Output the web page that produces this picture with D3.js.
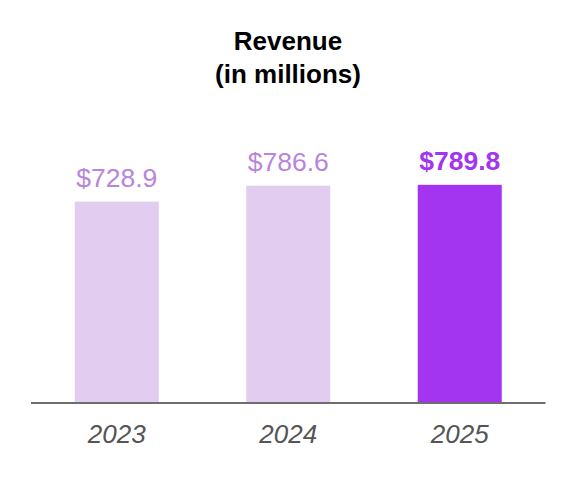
<!DOCTYPE html>
<html>
<head>
<meta charset="utf-8">
<script src="https://cdn.jsdelivr.net/npm/d3@7"></script>
<style>
  body { margin: 0; background: #fff; }
  svg { display: block; font-family: 'Liberation Sans', Arial, sans-serif; }
</style>
</head>
<body>
<svg id="chart" width="576" height="480"></svg>
<script>
// chart values
const years = ['2023', '2024', '2025'];
const revenue = [728.9, 786.6, 789.8];
const labels = ['$728.9', '$786.6', '$789.8'];
const titleLines = ['Revenue', '(in millions)'];

const svg = d3.select('#chart');
const baseY = 403;

const x = d3.scaleBand()
	.domain(years)
	.range([31, 545.5])
	.paddingInner(0.51)
	.paddingOuter(0.255);

const y = d3.scaleLinear()
	.domain([0, 800])
	.range([baseY, 182]);

// title
svg.append('text')
	.attr('text-anchor', 'middle')
	.attr('font-weight', 'bold')
	.attr('font-size', 26)
	.attr('fill', '#000')
	.selectAll('tspan')
	.data(titleLines)
	.enter()
	.append('tspan')
	.attr('x', 288)
	.attr('y', (d, i) => 50 + i * 33)
	.text((d) => d);

const data = years.map((d, i) => ({ year: d, value: revenue[i], label: labels[i], last: i === years.length - 1 }));

// bars
svg.selectAll('rect.bar')
	.data(data)
	.enter()
	.append('rect')
	.attr('class', 'bar')
	.attr('x', (d) => x(d.year))
	.attr('y', (d) => y(d.value))
	.attr('width', x.bandwidth())
	.attr('height', (d) => baseY - y(d.value))
	.attr('fill', (d) => (d.last ? '#a334f0' : '#e2cdf1'));

// value labels
svg.selectAll('text.value')
	.data(data)
	.enter()
	.append('text')
	.attr('class', 'value')
	.attr('x', (d) => x(d.year) + x.bandwidth() / 2)
	.attr('y', (d) => y(d.value) - 15)
	.attr('text-anchor', 'middle')
	.attr('font-size', 26.5)
	.attr('font-weight', (d) => (d.last ? 'bold' : 'normal'))
	.attr('fill', (d) => (d.last ? '#a334f0' : '#b884dc'))
	.text((d) => d.label);

// baseline
const axis = svg.append('g')
	.attr('transform', 'translate(0,' + baseY + ')')
	.call(d3.axisBottom(x).tickSize(0).tickPadding(22).tickSizeOuter(0));
axis.select('.domain')
	.attr('d', 'M31,0H545.5')
	.attr('stroke', '#6e6e6e')
	.attr('stroke-width', 2);
axis.selectAll('text')
	.attr('font-family', "'Liberation Sans', Arial, sans-serif")
	.attr('font-size', 26)
	.attr('font-style', 'italic')
	.attr('fill', '#555');
</script>
</body>
</html>
